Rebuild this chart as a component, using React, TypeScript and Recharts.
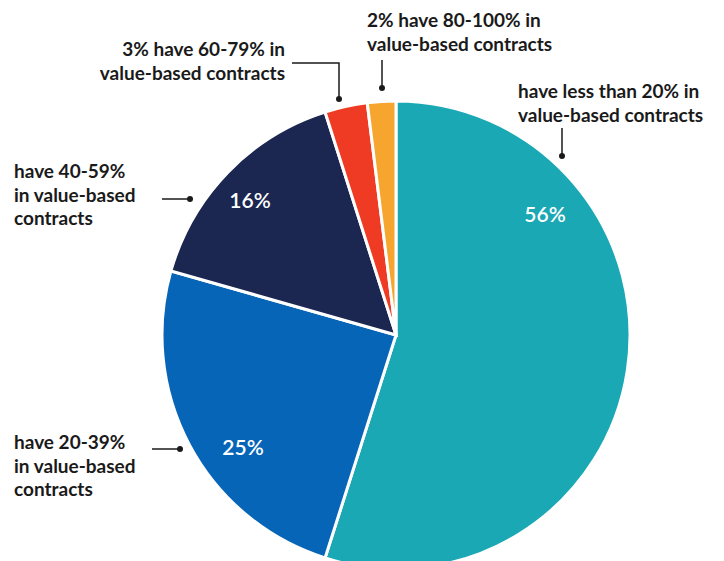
import React from 'react';
import { PieChart, Pie, Cell } from 'recharts';

const segments = ['less than 20%', '20-39%', '40-59%', '60-79%', '80-100%'];
const shares = [56, 25, 16, 3, 2];
const showInside = [true, true, true, false, false];
const captions = [
  ['have less than 20% in', 'value-based contracts'],
  ['have 20-39%', 'in value-based', 'contracts'],
  ['have 40-59%', 'in value-based', 'contracts'],
  ['3% have 60-79% in', 'value-based contracts'],
  ['2% have 80-100% in', 'value-based contracts']
];
const colors = ['#19a8b4', '#0765b8', '#1b2651', '#ef3b23', '#f6a52f'];

const data = segments.map((name, i) => ({ name, value: shares[i] }));

// annotation layout, offsets from the pie centre
const layout = [
  { pct: [149, -113], text: [122, -237, 'start'], line: [[166, -207], [166, -179]] },
  { pct: [-153, 120], text: [-382, 114, 'start'], line: [[-244, 114], [-216, 114]] },
  { pct: [-146, -127], text: [-382, -157, 'start'], line: [[-234, -136], [-206, -136]] },
  { pct: null, text: [-111, -279, 'end'], line: [[-104, -272], [-57, -272], [-57, -236]] },
  { pct: null, text: [-29, -308, 'start'], line: [[-14, -275], [-14, -247]] }
];

const FONT = 'Lato, "Noto Sans", sans-serif';

const renderLabel = (props: any) => {
  const { cx, cy, index } = props;
  const l = layout[index];
  const pts = l.line.map(([x, y]) => `${cx + x},${cy + y}`).join(' ');
  const end = l.line[l.line.length - 1];
  return (
    <g>
      {showInside[index] && l.pct && (
        <text
          x={cx + l.pct[0]}
          y={cy + l.pct[1]}
          fill="#ffffff"
          textAnchor="middle"
          fontFamily={FONT}
          fontWeight={600}
          fontSize={21}
        >
          {`${shares[index]}%`}
        </text>
      )}
      <text
        x={cx + (l.text[0] as number)}
        y={cy + (l.text[1] as number)}
        fill="#1a1a1a"
        textAnchor={l.text[2] as any}
        fontFamily={FONT}
        fontWeight={700}
        fontSize={19}
      >
        {captions[index].map((line, k) => (
          <tspan key={k} x={cx + (l.text[0] as number)} dy={k === 0 ? 0 : 23.5}>
            {line}
          </tspan>
        ))}
      </text>
      <polyline points={pts} fill="none" stroke="#1a1a1a" strokeWidth={1.5} />
      <circle cx={cx + end[0]} cy={cy + end[1]} r={3} fill="#1a1a1a" />
    </g>
  );
};

export default function App() {
  return (
    <div style={{ position: 'absolute', left: 0, top: 0, background: '#fff' }}>
      <PieChart width={724} height={561} margin={{ top: 0, right: 0, bottom: 0, left: 0 }}>
        <Pie
          data={data}
          dataKey="value"
          nameKey="name"
          cx={396}
          cy={335}
          outerRadius={234}
          startAngle={90}
          endAngle={-270}
          stroke="#ffffff"
          strokeWidth={3}
          label={renderLabel}
          labelLine={false}
          isAnimationActive={false}
        >
          {data.map((d, i) => (
            <Cell key={d.name} fill={colors[i]} />
          ))}
        </Pie>
      </PieChart>
    </div>
  );
}
